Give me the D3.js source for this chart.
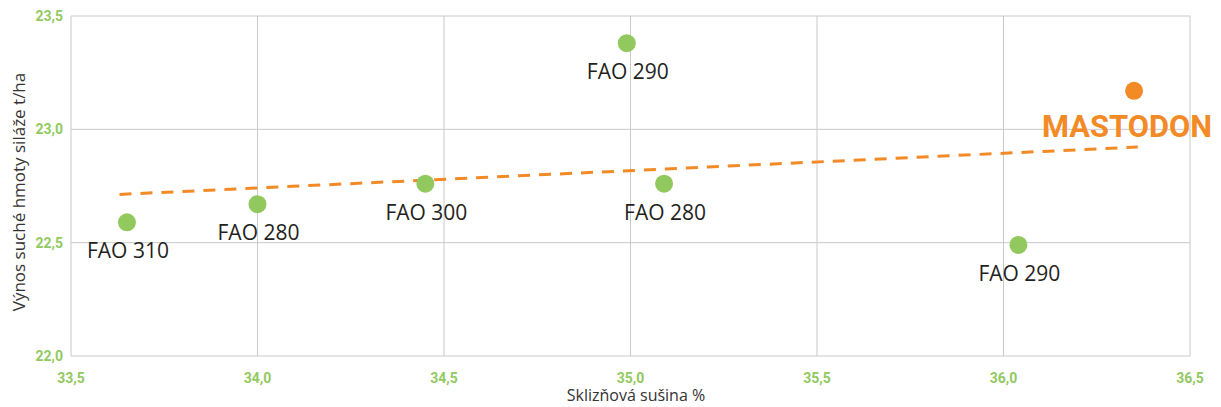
<!DOCTYPE html>
<html lang="cs">
<head>
<meta charset="UTF-8">
<title>Výnos vs. sklizňová sušina</title>
<script src="https://cdn.jsdelivr.net/npm/d3@7"></script>
<style>
  body { margin: 0; background: #fff; }
  svg { display: block; }
</style>
</head>
<body>
<svg id="main" width="1221" height="407"></svg>
<script>
    // data
    const hybrids = ['FAO 310', 'FAO 280', 'FAO 300', 'FAO 290', 'FAO 280', 'FAO 290', 'MASTODON'];
    const drySubstance = [33.65, 34.0, 34.45, 34.99, 35.09, 36.04, 36.35];
    const yieldTha = [22.59, 22.67, 22.76, 23.38, 22.76, 22.49, 23.17];
    const trendX = [33.63, 36.36];
    const trendY = [22.713, 22.922];
    const xTicks = [33.5, 34.0, 34.5, 35.0, 35.5, 36.0, 36.5];
    const yTicks = [22.0, 22.5, 23.0, 23.5];

    const green = '#92c95f';
    const orange = '#f28a26';
    const fmt = d => d3.format('.1f')(d).replace('.', ',');

    let svg = d3.select('svg#main');

    let xScale = d3.scaleLinear().domain([33.5, 36.5]).range([71, 1190]);
    let yScale = d3.scaleLinear().domain([22.0, 23.5]).range([356, 16]);

    // grid
    svg.append('g').selectAll('line.vx')
        .data(xTicks).enter().append('line')
        .attr('x1', d => xScale(d)).attr('x2', d => xScale(d))
        .attr('y1', yScale(22.0)).attr('y2', yScale(23.5))
        .attr('stroke', '#c9c9c9').attr('stroke-width', 1);
    svg.append('g').selectAll('line.hy')
        .data(yTicks).enter().append('line')
        .attr('x1', xScale(33.5)).attr('x2', xScale(36.5))
        .attr('y1', d => yScale(d)).attr('y2', d => yScale(d))
        .attr('stroke', '#c9c9c9').attr('stroke-width', 1);

    // tick labels
    svg.append('g').selectAll('text')
        .data(xTicks).enter().append('text')
        .attr('x', d => xScale(d)).attr('y', 383)
        .attr('text-anchor', 'middle')
        .attr('font-family', 'Roboto, sans-serif').attr('font-weight', 'bold')
        .attr('font-size', 14).attr('fill', green)
        .text(fmt);
    svg.append('g').selectAll('text')
        .data(yTicks).enter().append('text')
        .attr('x', 63).attr('y', d => yScale(d) + 5)
        .attr('text-anchor', 'end')
        .attr('font-family', 'Roboto, sans-serif').attr('font-weight', 'bold')
        .attr('font-size', 14).attr('fill', green)
        .text(fmt);

    // axis titles
    svg.append('text')
        .attr('transform', 'translate(25,192) rotate(-90)')
        .attr('text-anchor', 'middle')
        .attr('font-family', '"Open Sans", sans-serif').attr('font-size', 17)
        .attr('fill', '#333')
        .text('Výnos suché hmoty siláže t/ha');
    svg.append('text')
        .attr('x', 636).attr('y', 401)
        .attr('text-anchor', 'middle')
        .attr('font-family', '"Open Sans", sans-serif').attr('font-size', 16)
        .attr('fill', '#333')
        .text('Sklizňová sušina %');

    // trend line
    svg.append('line')
        .attr('x1', xScale(trendX[0])).attr('y1', yScale(trendY[0]))
        .attr('x2', xScale(trendX[1])).attr('y2', yScale(trendY[1]))
        .attr('stroke', orange).attr('stroke-width', 3)
        .attr('stroke-dasharray', '12,9');

    let points = hybrids.map((h, i) => ({name: h, x: drySubstance[i], y: yieldTha[i]}));
    let last = points.length - 1;

    svg.append('g').selectAll('circle')
        .data(points).enter().append('circle')
        .attr('cx', d => xScale(d.x)).attr('cy', d => yScale(d.y))
        .attr('r', 9)
        .attr('fill', (d, i) => i === last ? orange : green);

    svg.append('g').selectAll('text')
        .data(points.slice(0, last)).enter().append('text')
        .attr('x', d => xScale(d.x) + 1).attr('y', d => yScale(d.y) + 36)
        .attr('text-anchor', 'middle')
        .attr('font-family', '"Open Sans", sans-serif').attr('font-size', 21)
        .attr('fill', '#231f20')
        .text(d => d.name);

    svg.append('text')
        .attr('x', xScale(points[last].x) - 92).attr('y', yScale(points[last].y) + 46)
        .attr('font-family', '"Liberation Sans Narrow", Roboto, sans-serif')
        .attr('font-weight', 'bold').attr('font-size', 32)
        .attr('textLength', 170).attr('lengthAdjust', 'spacingAndGlyphs')
        .attr('fill', orange)
        .text(points[last].name);
</script>
</body>
</html>
